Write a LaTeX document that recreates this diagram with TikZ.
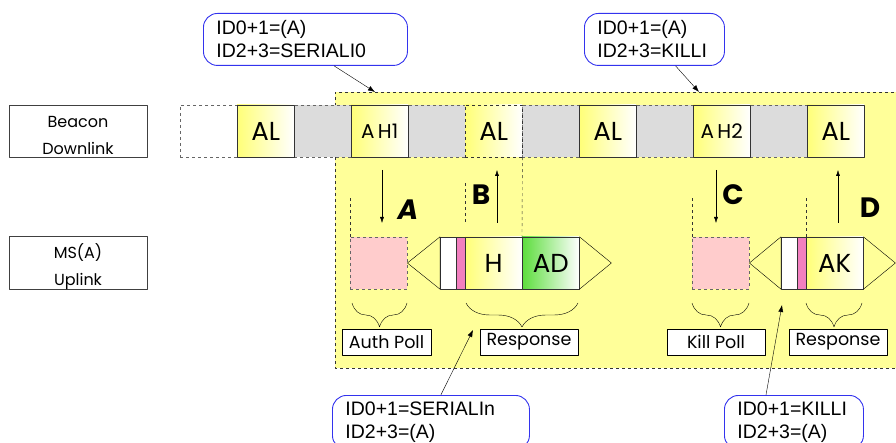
\documentclass[tikz,border=0pt]{standalone}
\usepackage{fontspec}
\setmainfont{Liberation Sans}
\newfontfamily\handfont{Poppins}
\usetikzlibrary{arrows.meta,calc,decorations.pathreplacing}

\definecolor{zoneyellow}{HTML}{FFFF99}
\definecolor{slotyellow}{HTML}{FFFF78}
\definecolor{slotgray}{HTML}{DCDCDC}
\definecolor{pollpink}{HTML}{FFCCCC}
\definecolor{markpink}{HTML}{F27FBF}
\definecolor{datagreen}{HTML}{5CDD3C}
\definecolor{noteblue}{HTML}{3333EE}

\tikzset{
  slot/.style={anchor=west, minimum width=57pt, minimum height=52pt, inner sep=0pt,
    font=\handfont\fontsize{26}{26}\selectfont},
  gray slot/.style={slot, fill=slotgray, draw=black!60, dashed},
  empty slot/.style={slot, fill=white, draw=black!60, dashed},
  beacon slot/.style={slot, draw=black!80, left color=slotyellow, right color=white},
  poll slot/.style={slot, fill=pollpink, draw=black!60, dashed},
  pad slot/.style={slot, minimum width=16pt, fill=white, draw=black!80},
  mark slot/.style={slot, minimum width=9pt, fill=markpink, draw=black!80},
  data slot/.style={slot, draw=black!80, left color=datagreen, right color=white},
  row label/.style={draw=black!75, fill=white, minimum width=138pt, minimum height=52pt,
    inner sep=0pt, align=center, font=\handfont\fontsize{16}{27}\selectfont},
  part label/.style={draw=black, fill=white, minimum height=26pt, inner sep=0pt,
    font=\handfont\fontsize{17.5}{17.5}\selectfont},
  note/.style={draw=noteblue, line width=0.9pt, fill=white, rounded corners=14pt, anchor=north west,
    inner xsep=13pt, inner ysep=0pt, align=left, font=\fontsize{19.5}{23}\selectfont},
  step label/.style={font=\handfont\bfseries\fontsize{28}{28}\selectfont},
  flow/.style={-{Latex[length=6pt,width=4pt]}},
  callout/.style={-{Latex[length=7pt,width=5pt]}},
  guide/.style={dashed, black!80},
  part brace/.style={decorate, decoration={brace, mirror, amplitude=24pt}}
}

\begin{document}
\begin{tikzpicture}[x=1pt, y=-1pt, line join=round]

  \useasboundingbox (0,0) rectangle (896,443);
  \clip (0,0) rectangle (896,443);

  % row names
  \node[row label] (downlab) at (78,131) {\rule{0pt}{20pt}Beacon\\Downlink};
  \node[row label] (uplab) at (78,263) {\rule{0pt}{22pt}MS(A)\\Uplink};

  % polled zone
  \fill[zoneyellow] (335,92) rectangle (900,368);
  \draw[guide] (900,92) -- (335,92) -- (335,368) -- (900,368);

  % ---- beacon downlink slots ----
  \foreach \i in {2,4,...,10} {
    \node[gray slot] (b\i) at ({180+57*\i},131) {};
  }
  \node[empty slot] (b0) at (180,131) {};
  \node[beacon slot] (b1) at (237,131) {AL};
  \node[beacon slot, font=\handfont\fontsize{20}{20}\selectfont] (b3) at (351,131) {A\,H1};
  \node[beacon slot, dashed] (b5) at (465,131) {AL};
  \node[beacon slot] (b7) at (579,131) {AL};
  \node[beacon slot, font=\handfont\fontsize{20}{20}\selectfont] (b9) at (693,131) {A\,H2};
  \node[beacon slot] (b11) at (807,131) {AL};

  % ---- uplink frames ----
  \node[poll slot] (p1) at (350,263) {};
  \node[pad slot] (w1) at (440,263) {};
  \node[mark slot] (m1) at (456,263) {};
  \node[beacon slot] (h1) at (465,263) {H};
  \node[data slot] (d1) at (522,263) {AD};
  \draw (p1.east) -- (w1.north west) -- (w1.south west) -- cycle;
  \draw (d1.north east) -- ($(d1.east)+(32,0)$) -- (d1.south east);

  \node[poll slot] (p2) at (692,263) {};
  \node[pad slot] (w2) at (781,263) {};
  \node[mark slot] (m2) at (797,263) {};
  \node[beacon slot] (k2) at (806,263) {AK};
  \draw (p2.east) -- (w2.north west) -- (w2.south west) -- cycle;
  \draw (k2.north east) -- ($(k2.east)+(32,0)$) -- (k2.south east);

  % timing guides
  \draw[guide] (p1.north west) -- ++(0,-40);
  \draw[guide] ($(b5.south west)+(0,26)$) -- ++(0,40);
  \draw[guide] (b5.south east) -- (d1.north west);
  \draw[guide] (p2.north west) -- ++(0,-40);
  \draw[guide] (k2.north west) -- ++(0,-40);

  % steps A to D
  \draw[flow] (382,170) -- (382,223);
  \draw[flow] (497,223) -- (497,170);
  \draw[flow] (716,170) -- (716,223);
  \draw[flow] (838,223) -- (838,170);
  \node[step label, font=\handfont\bfseries\itshape\fontsize{28}{28}\selectfont] (sA) at (408,210) {A};
  \node[step label] (sB) at (481,195) {B};
  \node[step label] (sC) at (733,195) {C};
  \node[step label] (sD) at (870,208) {D};

  % braces and their names
  \draw[part brace] (352,303) -- (407,303);
  \draw[part brace] (466,303) -- (578,303);
  \draw[part brace] (692,303) -- (749,303);
  \draw[part brace] (806,303) -- (862,303);
  \node[part label, minimum width=89pt] (authlab) at (386.5,342) {Auth Poll};
  \node[part label, minimum width=98pt] (resp1lab) at (529,342) {Response};
  \node[part label, minimum width=98pt] (killlab) at (716,342) {Kill Poll};
  \node[part label, minimum width=98pt] (resp2lab) at (838,342) {Response};

  % ---- id notes ----
  \node[note, minimum width=204pt, minimum height=52pt, text width=178pt] (n1) at (203,13) {ID0+1=(A)\\ID2+3=SERIALI0};
  \node[note, minimum width=140pt, minimum height=52pt, text width=114pt] (n2) at (584,13) {ID0+1=(A)\\ID2+3=KILLI};
  \node[note, minimum width=197pt, minimum height=54pt, text width=171pt] (n3) at (332,395) {ID0+1=SERIALIn\\ID2+3=(A)};
  \node[note, minimum width=139pt, minimum height=54pt, text width=113pt] (n4) at (724,395) {ID0+1=KILLI\\ID2+3=(A)};

  \coordinate (z1) at (375,92);
  \coordinate (z2) at (699,92);
  \coordinate (z3) at (473,330);
  \coordinate (z4) at (782,305);
  \draw[callout] ($(n1.south west)!0.64!(n1.south east)$) -- (z1);
  \draw[callout] ($(n2.south west)!0.65!(n2.south east)$) -- (z2);
  \draw[callout] ($(n3.north west)!0.55!(n3.north east)$) -- (z3);
  \draw[callout] ($(n4.north west)!0.3!(n4.north east)$) -- (z4);

\end{tikzpicture}
\end{document}
